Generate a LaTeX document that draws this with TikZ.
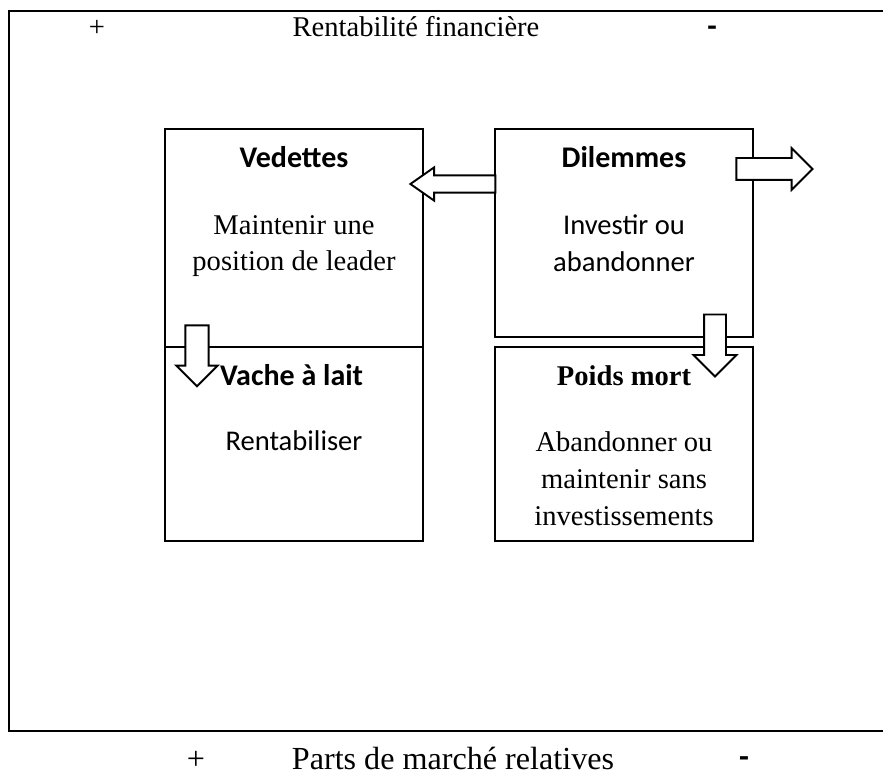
\documentclass[tikz,border=0pt]{standalone}
\usepackage{fontspec}
\setmainfont{Liberation Serif}
\newfontfamily\calibri{Carlito}
\usetikzlibrary{positioning, shapes.arrows}

\begin{document}
\begin{tikzpicture}[x=0.42pt, y=-0.42pt, node distance=0pt]
                % Styles
                \tikzstyle{frame} = [line width=1.2pt]
                \tikzstyle{quadrant} = [rectangle, draw=black, line width=0.8pt, outer sep=0pt, minimum width=108.4pt]
                \tikzstyle{title} = [inner sep=0pt, text height=9pt, text depth=3pt, font=\fontsize{12.6}{14}\calibri\bfseries]
                \tikzstyle{titletimes} = [inner sep=0pt, text height=9pt, text depth=3pt, font=\fontsize{12}{14}\selectfont\bfseries]
                \tikzstyle{body} = [inner sep=0pt, align=center, font=\fontsize{12}{15.5}\selectfont]
                \tikzstyle{bodycal} = [inner sep=0pt, align=center, font=\fontsize{12}{15.5}\calibri]
                \tikzstyle{axis} = [inner sep=0pt, anchor=base, font=\fontsize{12}{14}\selectfont]
                \tikzstyle{axisbig} = [inner sep=0pt, anchor=base, font=\fontsize{13.5}{16}\selectfont]
                \tikzstyle{blockarrow} = [single arrow, draw=black, line width=0.8pt, fill=white, outer sep=0pt]

                \useasboundingbox (0,0) rectangle (883,775);

                % Frame
                \draw [frame] (883,11) -- (9,11) -- (9,731) -- (883,731);

                % Axis labels
                \node (plustop) [axis] at (97,37) {+};
                \node (rentab) [axis] at (416,37) {Rentabilité financière};
                \node (minustop) [axis, font=\fontsize{13}{14}\calibri\bfseries] at (712,37) {-};
                \node (plusbot) [axisbig] at (196,769) {+};
                \node (parts) [axisbig] at (453,769) {Parts de marché relatives};
                \node (minusbot) [axisbig, font=\fontsize{13.5}{16}\calibri\bfseries] at (744,767) {-};

                % Quadrants
                \node (vedettes) [quadrant, minimum height=91.6pt] at (294,238) {};
                \node (vache) [quadrant, minimum height=81.5pt, below=of vedettes] {};
                \node (dilemmes) [quadrant, minimum height=87.4pt, right=30.2pt of vedettes.north east, anchor=north west] {};
                \node (poids) [quadrant, minimum height=81.5pt, below=4.2pt of dilemmes] {};

                % Texts
                \node (vedettes-t) [title, below=7pt of vedettes.north] {Vedettes};
                \node (vedettes-b) [body, below=16.6pt of vedettes-t] {Maintenir une\\position de leader};
                \node (vache-t) [title, below=7pt of vache.north, xshift=-1pt] {Vache à lait};
                \node (vache-b) [bodycal, below=15.5pt of vache-t.south, xshift=1pt] {Rentabiliser};
                \node (dilemmes-t) [title, below=7pt of dilemmes.north] {Dilemmes};
                \node (dilemmes-b) [bodycal, below=16.6pt of dilemmes-t] {Investir ou\\abandonner};
                \node (poids-t) [titletimes, below=7pt of poids.north] {Poids mort};
                \node (poids-b) [body, below=16pt of poids-t] {Abandonner ou\\maintenir sans\\investissements};

                % Arrows
                \node (toleft) [blockarrow, shape border rotate=180, minimum height=35.7pt, inner xsep=0pt, inner ysep=3.2pt, single arrow tip angle=70, single arrow head extend=3.4pt] at (459,184) {};
                \node (toright) [blockarrow, minimum height=32pt, inner xsep=0pt, inner ysep=4.2pt, single arrow head extend=4.2pt] at (769,169) {};
                \node (todown1) [blockarrow, shape border rotate=270, minimum height=25.6pt, inner ysep=0pt, inner xsep=4.5pt, single arrow head extend=3.8pt] at (197,350) {};
                \node (todown2) [blockarrow, shape border rotate=270, minimum height=26pt, inner ysep=0pt, inner xsep=4.2pt, single arrow head extend=4.4pt] at (715,340) {};
\end{tikzpicture}
\end{document}
